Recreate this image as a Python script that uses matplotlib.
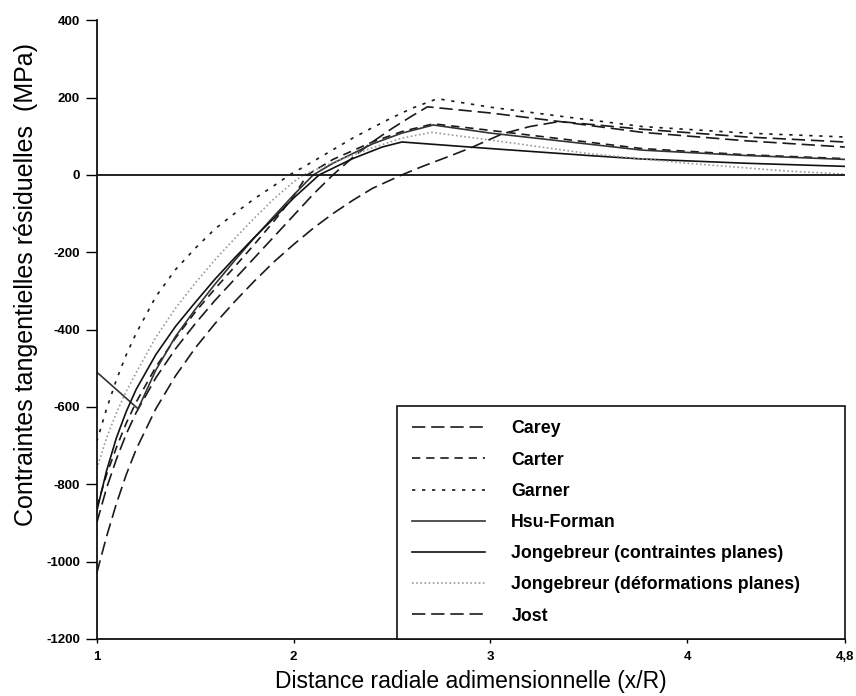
import matplotlib
matplotlib.use("Agg")
import matplotlib.pyplot as plt

plt.rcParams["font.family"] = ["Liberation Sans", "DejaVu Sans"]
plt.rcParams["axes.unicode_minus"] = False

# residual tangential stress (MPa) vs dimensionless radial distance x/R, one pair per model
carey_x = [1.0, 1.05, 1.1, 1.15, 1.2, 1.3, 1.4, 1.5, 1.6, 1.7, 1.8, 1.9, 2.0, 2.1, 2.2,
           2.3, 2.4, 2.5, 2.6, 2.68, 3.0, 3.35, 3.77, 4.3, 4.8]
carey_y = [-900, -810, -735, -670, -615, -525, -450, -385, -325, -270, -215, -160, -105, -50, 0,
           45, 85, 120, 152, 176, 160, 138, 110, 88, 72]

carter_x = [1.0, 1.05, 1.1, 1.15, 1.2, 1.3, 1.4, 1.5, 1.6, 1.7, 1.8, 1.9, 2.0, 2.07,
            2.2, 2.4, 2.55, 2.71, 3.0, 3.77, 4.3, 4.8]
carter_y = [-860, -775, -705, -642, -588, -497, -422, -355, -295, -238, -180, -120, -55, 0,
            40, 85, 112, 132, 115, 68, 52, 42]

garner_x = [1.0, 1.05, 1.1, 1.15, 1.2, 1.3, 1.4, 1.5, 1.6, 1.7, 1.8, 1.9, 1.98,
            2.1, 2.2, 2.3, 2.4, 2.5, 2.6, 2.73, 3.0, 3.35, 3.77, 4.3, 4.8]
garner_y = [-690, -605, -530, -465, -410, -315, -245, -190, -140, -100, -62, -28, 0,
            35, 65, 95, 122, 148, 172, 197, 175, 152, 125, 108, 98]

hsu_x = [1.0, 1.1, 1.21, 1.3, 1.4, 1.5, 1.6, 1.7, 1.8, 1.9, 2.0, 2.1,
         2.2, 2.4, 2.55, 2.71, 3.0, 3.77, 4.3, 4.8]
hsu_y = [-510, -555, -605, -505, -418, -348, -283, -222, -163, -107, -52, 0,
         30, 80, 108, 129, 108, 64, 50, 40]

jcp_x = [1.0, 1.05, 1.1, 1.15, 1.2, 1.3, 1.4, 1.5, 1.6, 1.7, 1.8, 1.9, 2.0, 2.13,
         2.3, 2.45, 2.55, 3.0, 3.5, 3.77, 4.3, 4.8]
jcp_y = [-870, -765, -680, -612, -555, -465, -392, -330, -270, -215, -162, -112, -60, 0,
         42, 72, 85, 68, 50, 41, 30, 22]

jdp_x = [1.0, 1.05, 1.1, 1.15, 1.2, 1.3, 1.4, 1.5, 1.6, 1.7, 1.8, 1.9, 2.0, 2.05,
         2.2, 2.4, 2.55, 2.7, 3.0, 3.5, 4.0, 4.5, 4.8]
jdp_y = [-760, -680, -615, -560, -512, -420, -345, -280, -220, -165, -112, -62, -18, 0,
         32, 70, 95, 110, 90, 55, 30, 10, 2]

jost_x = [1.0, 1.05, 1.1, 1.15, 1.2, 1.3, 1.4, 1.5, 1.6, 1.7, 1.8, 1.9, 2.0, 2.1, 2.2,
          2.3, 2.4, 2.55, 2.65, 2.8, 2.9, 3.06, 3.2, 3.35, 3.77, 4.3, 4.8]
jost_y = [-1030, -935, -850, -775, -710, -605, -520, -448, -385, -328, -275, -225, -180, -138, -100,
          -66, -35, 0, 21, 50, 70, 106, 125, 138, 118, 98, 85]

series = [
    ("Carey", carey_x, carey_y, dict(color="#1a1a1a", ls=(0, (8, 3.5)))),
    ("Carter", carter_x, carter_y, dict(color="#1a1a1a", ls=(0, (5, 3.5)))),
    ("Garner", garner_x, garner_y, dict(color="#1a1a1a", ls=(0, (2, 4)))),
    ("Hsu-Forman", hsu_x, hsu_y, dict(color="#333333", ls="-")),
    ("Jongebreur (contraintes planes)", jcp_x, jcp_y, dict(color="#111111", ls="-")),
    ("Jongebreur (déformations planes)", jdp_x, jdp_y, dict(color="#9a9a9a", ls=(0, (1, 1.5)))),
    ("Jost", jost_x, jost_y, dict(color="#1a1a1a", ls=(0, (8, 3.5)))),
]

x_ticks = [1, 2, 3, 4, 4.8]
x_ticklabels = ["1", "2", "3", "4", "4,8"]
y_ticks = list(range(-1200, 401, 200))

fig = plt.figure(figsize=(8.56, 6.96), dpi=100)
ax = fig.add_axes([0.113, 0.082, 0.874, 0.889])

for name, xs, ys, style in series:
    ax.plot(xs, ys, lw=1.2, label=name, **style)

ax.axhline(0, color="#111111", lw=1.3)

ax.set_xlim(1, 4.8)
ax.set_ylim(-1200, 400)
ax.set_xticks(x_ticks)
ax.set_xticklabels(x_ticklabels)
ax.set_yticks(y_ticks)

for side in ("top", "right"):
    ax.spines[side].set_visible(False)
for side in ("left", "bottom"):
    ax.spines[side].set_linewidth(1.3)
    ax.spines[side].set_color("#111111")

ax.tick_params(axis="y", direction="out", length=8, width=1, labelsize=9.5, pad=4)
ax.tick_params(axis="x", direction="out", length=3, width=1, labelsize=9.5, pad=6)
for lbl in ax.get_xticklabels() + ax.get_yticklabels():
    lbl.set_fontweight("bold")

ax.set_xlabel("Distance radiale adimensionnelle (x/R)", fontsize=16.5, labelpad=5)
ax.set_ylabel("Contraintes tangentielles résiduelles  (MPa)", fontsize=18)
ax.yaxis.set_label_coords(-0.079, 0.573)

leg = ax.legend(
    loc="lower left",
    bbox_to_anchor=(0.402, 0.0, 0.598, 0.381),
    mode="expand",
    borderaxespad=0,
    fancybox=False,
    framealpha=1,
    edgecolor="#111111",
    fontsize=12.8,
    handlelength=4.1,
    handletextpad=1.5,
    labelspacing=0.8,
    borderpad=0.8,
)
leg.get_frame().set_linewidth(1.2)
for txt in leg.get_texts():
    txt.set_fontweight("bold")

fig.savefig("out.png", dpi=100)
